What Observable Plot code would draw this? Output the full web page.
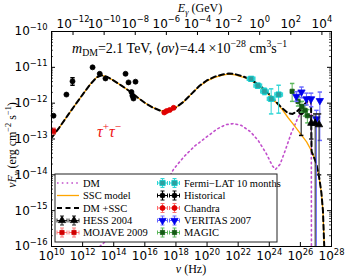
<!DOCTYPE html>
<html><head><meta charset="utf-8">
<script src="https://cdn.jsdelivr.net/npm/d3@7"></script>
<script src="https://cdn.jsdelivr.net/npm/@observablehq/plot@0.6"></script>
<style>body{margin:0;background:#fff}</style>
</head><body><div id="chart"></div>
<script>
// ---------- data (log10 values) ----------
const H_GEV_S = 4.135667e-24; // Planck constant, GeV s (E = h nu)

const sscLogNu = [10.0,10.5,11.0,11.5,12.0,12.5,12.9,13.2,13.6,14.0,14.5,15.0,15.5,16.0,16.5,17.0,17.3,17.7,18.0,18.5,19.0,19.5,20.0,20.5,21.0,21.4,21.8,22.3,22.8,23.3,23.8,24.3,24.8,25.2,25.6,26.0,26.4,26.7,27.0,27.2,27.35,27.45,27.5,27.56];
const sscLogF  = [-12.97,-12.68,-12.37,-12.06,-11.76,-11.47,-11.28,-11.22,-11.27,-11.37,-11.51,-11.66,-11.83,-11.99,-12.12,-12.21,-12.23,-12.19,-12.12,-11.96,-11.74,-11.53,-11.38,-11.28,-11.22,-11.19,-11.21,-11.27,-11.36,-11.50,-11.68,-11.92,-12.16,-12.40,-12.62,-12.85,-13.08,-13.32,-13.65,-14.05,-14.5,-15.0,-15.6,-16.3];

const dmsscLogNu = [10.0,10.5,11.0,11.5,12.0,12.5,12.9,13.2,13.6,14.0,14.5,15.0,15.5,16.0,16.5,17.0,17.3,17.7,18.0,18.5,19.0,19.5,20.0,20.5,21.0,21.4,21.8,22.3,22.8,23.3,23.8,24.3,24.8,25.2,25.5,25.8,26.1,26.4,26.68,26.72,27.0,27.2,27.35,27.45,27.5,27.56];
const dmsscLogF  = [-12.97,-12.68,-12.37,-12.06,-11.76,-11.47,-11.28,-11.22,-11.27,-11.37,-11.51,-11.66,-11.83,-11.99,-12.12,-12.21,-12.23,-12.19,-12.12,-11.96,-11.74,-11.52,-11.36,-11.26,-11.20,-11.17,-11.19,-11.25,-11.34,-11.48,-11.66,-11.90,-12.13,-12.28,-12.30,-12.22,-12.10,-11.97,-11.90,-13.35,-13.65,-14.05,-14.5,-15.0,-15.6,-16.3];

const dmLogNu = [13.1,14.0,15.0,16.0,16.8,17.33,17.84,18.5,19.2,19.8,20.65,21.2,21.7,22.2,22.8,23.3,23.8,24.2,24.4,24.7,25.0,25.4,25.8,26.2,26.5,26.7,26.71];
const dmLogF  = [-16.0,-15.65,-15.25,-14.85,-14.5,-14.25,-13.85,-13.5,-13.2,-13.0,-12.72,-12.6,-12.57,-12.62,-12.8,-13.05,-13.4,-13.75,-13.85,-13.7,-13.35,-12.85,-12.45,-12.12,-11.98,-11.95,-16.5];

// Historical (black circles)
const histLogNu = [10.13,10.96,11.35,12.64,13.10,13.47,14.76,14.95,15.40,15.14,15.20,15.27,26.05];
const histLogF  = [-12.35,-11.76,-11.39,-11.00,-11.18,-11.31,-11.18,-11.42,-11.40,-11.69,-11.79,-11.87,-12.25];
const histYLo   = [null,null,-11.50,null,null,null,null,null,null,null,null,null,-12.90];
const histYHi   = [null,null,-11.29,null,null,null,null,null,null,null,null,null,-12.05];

// MOJAVE 2009 (red squares)
const mojLogNu = [10.13];
const mojLogF  = [-12.78];
const mojYLo   = [-12.86];
const mojYHi   = [-12.70];

// Chandra (red circles)
const chaLogNu = [17.25,17.4,17.6,17.85];
const chaLogF  = [-12.26,-12.22,-12.19,-12.13];

// Fermi-LAT 10 months (cyan squares)
const ferLogNu = [22.83,23.26,23.69,24.12,24.60];
const ferLogF  = [-11.32,-11.51,-11.67,-11.88,-11.76];
const ferYLo   = [-11.38,-11.58,-11.76,-12.30,-12.28];
const ferYHi   = [-11.27,-11.45,-11.58,-11.60,-11.50];
const ferXErr  = [0.24,0.24,0.24,0.24,0.24];

// MAGIC (green)
const magLogNu = [25.47,25.85,26.1,26.3,26.45];
const magLogF  = [-11.67,-11.95,-12.10,-12.20,-12.35];
const magYLo   = [-11.95,-12.08,-12.25,-12.36,-12.55];
const magYHi   = [-11.45,-11.82,-11.95,-12.05,-12.18];

// VERITAS 2007 (blue down triangles)
const verLogNu = [25.74,26.07,26.39,26.69,27.03,27.25];
const verLogF  = [-11.81,-11.69,-11.88,-11.88,-12.44,-11.93];
const verYLo   = [-11.95,-11.85,-12.05,-12.10,-16.5,-13.04];
const verYHi   = [-11.68,-11.55,-11.72,-11.72,-12.20,-11.69];

// HESS 2004 (black up triangles)
const hesLogNu = [26.7,26.95,27.2];
const hesLogF  = [-12.56,-12.56,-12.60];
const hesYLo   = [-13.0,-16.5,-14.0];
const hesYHi   = [-12.35,-12.30,-12.30];

const xTickExp = [10,12,14,16,18,20,22,24,26,28];
const yTickExp = [-16,-15,-14,-13,-12,-11,-10];
const topTickExp = [-12,-10,-8,-6,-4,-2,0,2,4];

// ---------- build ----------
const p10 = v => Math.pow(10, v);
const curve = (lx, ly) => lx.map((v,i)=>({nu:p10(v), f:p10(ly[i])}));
function pts(lx, ly, ylo, yhi, xerr){
  return lx.map((v,i)=>({
    nu:p10(v), f:p10(ly[i]),
    ylo: ylo && ylo[i]!=null ? p10(ylo[i]) : null,
    yhi: yhi && yhi[i]!=null ? p10(yhi[i]) : null,
    xlo: xerr ? p10(v - xerr[i]) : null,
    xhi: xerr ? p10(v + xerr[i]) : null
  }));
}
const capH = {draw(ctx, size){const w=Math.sqrt(size/Math.PI); ctx.moveTo(-w,0); ctx.lineTo(w,0);}};
const capV = {draw(ctx, size){const w=Math.sqrt(size/Math.PI); ctx.moveTo(0,-w); ctx.lineTo(0,w);}};

const styles = {
  fermi:{symbol:"square", r:3, fill:"#2f9e9e", stroke:"#00d0d0", ecolor:"#33d6d6"},
  hist:{symbol:"circle", r:2.5, fill:"#000", stroke:"#000", ecolor:"#000"},
  chandra:{symbol:"circle", r:2.5, fill:"#e00000", stroke:"#e00000", ecolor:"#ff7070"},
  veritas:{symbol:"triangle", r:2.7, fill:"#0000ee", stroke:"#0000ee", ecolor:"#6a6aff", rotate:180},
  magic:{symbol:"square", r:2.4, fill:"#145a14", stroke:"#145a14", ecolor:"#5cb85c"},
  hess:{symbol:"triangle", r:2.7, fill:"#000", stroke:"#000", ecolor:"#222"},
  mojave:{symbol:"square", r:2.4, fill:"#d00000", stroke:"#d00000", ecolor:"#ff7777"}
};

function seriesMarks(data, st){
  const ey = data.filter(d=>d.ylo!=null), ex = data.filter(d=>d.xlo!=null);
  return [
    Plot.link(ex, {x1:"xlo", x2:"xhi", y1:"f", y2:"f", stroke:st.ecolor, strokeWidth:1, clip:true}),
    Plot.link(ey, {x1:"nu", x2:"nu", y1:"ylo", y2:"yhi", stroke:st.ecolor, strokeWidth:1, clip:true}),
    Plot.dot(ey, {x:"nu", y:"ylo", symbol:capH, r:2.2, stroke:st.ecolor, fill:"none", clip:true}),
    Plot.dot(ey, {x:"nu", y:"yhi", symbol:capH, r:2.2, stroke:st.ecolor, fill:"none", clip:true}),
    Plot.dot(ex, {x:"xlo", y:"f", symbol:capV, r:2.2, stroke:st.ecolor, fill:"none"}),
    Plot.dot(ex, {x:"xhi", y:"f", symbol:capV, r:2.2, stroke:st.ecolor, fill:"none"}),
    Plot.dot(data, {x:"nu", y:"f", symbol:st.symbol, r:st.r, fill:st.fill, stroke:st.stroke, strokeWidth:0.8, rotate:st.rotate||0})
  ];
}

const sans = "'DejaVu Sans', Verdana, sans-serif";
const serif = "'Liberation Serif', 'DejaVu Serif', serif";
const mL=51, mR=17, mT=31, mB=34, W=348, HT=280;
const innerW = W-mL-mR, innerH = HT-mT-mB;

const yMinor = [];
for (let e=-16; e<-10; e++) for (let k=2;k<10;k++) yMinor.push(k*p10(e));
const xMajor = xTickExp.map(p10), yMajor = yTickExp.map(p10);
const topNu = topTickExp.map(e => p10(e)/H_GEV_S);

const plot = Plot.plot({
  width:W, height:HT, marginLeft:mL, marginRight:mR, marginTop:mT, marginBottom:mB,
  x:{type:"log", domain:[1e10,1e28]},
  y:{type:"log", domain:[1e-16,1e-10]},
  style:{fontFamily:sans, fontSize:"11px", background:"white", color:"black"},
  marks:[
    Plot.line(curve(dmLogNu, dmLogF), {x:"nu", y:"f", stroke:"#c24fcc", strokeWidth:1.6, strokeDasharray:"1.6,3.2", clip:true}),
    Plot.line(curve(sscLogNu, sscLogF), {x:"nu", y:"f", stroke:"#ffa500", strokeWidth:1.3, clip:true}),
    Plot.line(curve(dmsscLogNu, dmsscLogF), {x:"nu", y:"f", stroke:"#000", strokeWidth:2, strokeDasharray:"5,3.5", clip:true}),
    ...seriesMarks(pts(histLogNu, histLogF, histYLo, histYHi), styles.hist),
    ...seriesMarks(pts(mojLogNu, mojLogF, mojYLo, mojYHi), styles.mojave),
    ...seriesMarks(pts(chaLogNu, chaLogF), styles.chandra),
    ...seriesMarks(pts(ferLogNu, ferLogF, ferYLo, ferYHi, ferXErr), styles.fermi),
    ...seriesMarks(pts(magLogNu, magLogF, magYLo, magYHi), styles.magic),
    ...seriesMarks(pts(verLogNu, verLogF, verYLo, verYHi), styles.veritas),
    ...seriesMarks(pts(hesLogNu, hesLogF, hesYLo, hesYHi), styles.hess),
    Plot.frame({stroke:"#000", strokeWidth:1}),
    Plot.tickX(xMajor, {x:d=>d, insetTop:innerH-4, stroke:"#000"}),
    Plot.tickX(topNu, {x:d=>d, insetBottom:innerH-4, stroke:"#000"}),
    Plot.tickY(yMajor, {y:d=>d, insetRight:innerW-4, stroke:"#000"}),
    Plot.tickY(yMajor, {y:d=>d, insetLeft:innerW-4, stroke:"#000"}),
    Plot.tickY(yMinor, {y:d=>d, insetRight:innerW-2, stroke:"#000", strokeWidth:0.7}),
    Plot.tickY(yMinor, {y:d=>d, insetLeft:innerW-2, stroke:"#000", strokeWidth:0.7}),
    Plot.axisX(xMajor, {anchor:"bottom", tickSize:0, tickPadding:5, label:null, fontSize:12,
      tickFormat:d=>"10^{"+Math.round(Math.log10(d))+"}"}),
    Plot.axisX(topNu, {anchor:"top", tickSize:0, tickPadding:4, label:null, fontSize:12,
      tickFormat:d=>"10^{"+String(Math.round(Math.log10(d*H_GEV_S))).replace("-","−")+"}"}),
    Plot.axisY(yMajor, {anchor:"left", tickSize:0, tickPadding:4, label:null, fontSize:12,
      tickFormat:d=>"10^{"+String(Math.round(Math.log10(d))).replace("-","−")+"}"})
  ]
});
document.getElementById("chart").appendChild(plot);

const NS = "http://www.w3.org/2000/svg";
function rich(textEl, segs, base){
  while (textEl.firstChild) textEl.removeChild(textEl.firstChild);
  let cur = 0;
  segs.forEach(s=>{
    const ts = document.createElementNS(NS,"tspan");
    let target = 0, size = base;
    if (s.sup){ target = -0.42*base; size = base*0.7; }
    if (s.sub){ target = 0.22*base; size = base*0.7; }
    ts.setAttribute("dy", (target-cur).toFixed(2));
    cur = target;
    ts.setAttribute("font-size", size);
    if (s.i) ts.setAttribute("font-style","italic");
    ts.textContent = s.t;
    textEl.appendChild(ts);
  });
}
function parseSimple(str){
  return str.split(/(\^\{[^}]*\})/).filter(Boolean).map(p=> p.startsWith("^{") ? {t:p.slice(2,-1), sup:true} : {t:p});
}
const svg = d3.select(plot);
svg.selectAll("text").each(function(){
  const s = this.textContent;
  if (s.includes("^{")) rich(this, parseSimple(s), 12);
});

function addText(x, y, segs, opt){
  const t = svg.append("text").attr("x",x).attr("y",y)
    .attr("font-family", opt.family||serif).attr("font-size", opt.size)
    .attr("fill", opt.fill||"#000").attr("text-anchor", opt.anchor||"start");
  if (opt.transform) t.attr("transform", opt.transform);
  rich(t.node(), segs, opt.size);
  return t;
}

// annotation
addText(72, 53, [
  {t:"m", i:true},{t:"DM", sub:true},{t:"=2.1 TeV, ⟨"},{t:"σv", i:true},{t:"⟩=4.4 ×10"},{t:"−28", sup:true},
  {t:" cm"},{t:"3", sup:true},{t:"s"},{t:"−1", sup:true}
], {size:14});
addText(97, 137, [{t:"τ", i:true},{t:"+", sup:true},{t:"τ", i:true},{t:"−", sup:true}], {size:16, fill:"#ee1111"});
// axis titles
addText(191, 273, [{t:"ν", i:true},{t:" (Hz)"}], {size:12, anchor:"middle"});
addText(200, 12, [{t:"E", i:true},{t:"γ", sub:true, i:true},{t:" (GeV)"}], {size:12, anchor:"middle"});
addText(0, 0, [{t:"νF", i:true},{t:"ν", sub:true, i:true},{t:" (erg cm"},{t:"−2", sup:true},{t:" s"},{t:"−1", sup:true},{t:")"}],
  {size:12, anchor:"middle", transform:"translate(16,145) rotate(-90)"});

// legend
const lg = svg.append("g").attr("text-anchor","start");
lg.append("rect").attr("x",55).attr("y",174).attr("width",222).attr("height",68)
  .attr("fill","white").attr("stroke","#222").attr("stroke-width",1);
const rowsY = [183,195.5,208,220.5,232.5];
function legendLine(y, color, width, dash){
  lg.append("line").attr("x1",57).attr("x2",79).attr("y1",y).attr("y2",y)
    .attr("stroke",color).attr("stroke-width",width).attr("stroke-dasharray",dash||null);
}
function legendPt(cx, cy, st){
  const e = st.ecolor;
  const L = (x1,y1,x2,y2)=>lg.append("line").attr("x1",x1).attr("y1",y1).attr("x2",x2).attr("y2",y2).attr("stroke",e).attr("stroke-width",1);
  L(cx-5,cy,cx+5,cy); L(cx,cy-4.5,cx,cy+4.5);
  L(cx-2,cy-4.5,cx+2,cy-4.5); L(cx-2,cy+4.5,cx+2,cy+4.5);
  L(cx-5,cy-2,cx-5,cy+2); L(cx+5,cy-2,cx+5,cy+2);
  const types = {circle:d3.symbolCircle, square:d3.symbolSquare, triangle:d3.symbolTriangle};
  lg.append("path").attr("d", d3.symbol(types[st.symbol], Math.PI*st.r*st.r)())
    .attr("transform",`translate(${cx},${cy}) rotate(${st.rotate||0})`)
    .attr("fill",st.fill).attr("stroke",st.stroke).attr("stroke-width",0.8);
}
function legendLabel(x, y, s){
  lg.append("text").attr("x",x).attr("y",y+3.5).attr("text-anchor","start")
    .attr("font-family",serif).attr("font-size",10.5).attr("fill","#000").text(s);
}
legendLine(rowsY[0], "#c24fcc", 1.6, "1.6,3.2"); legendLabel(83, rowsY[0], "DM");
legendLine(rowsY[1], "#ffa500", 1.3); legendLabel(83, rowsY[1], "SSC model");
legendLine(rowsY[2], "#000", 2, "5,3.5"); legendLabel(83, rowsY[2], "DM +SSC");
legendPt(62, rowsY[3], styles.hess); legendPt(74, rowsY[3], styles.hess); legendLabel(83, rowsY[3], "HESS 2004");
legendPt(62, rowsY[4], styles.mojave); legendPt(74, rowsY[4], styles.mojave); legendLabel(83, rowsY[4], "MOJAVE 2009");
const col2 = [["Fermi−LAT 10 months", styles.fermi],["Historical", styles.hist],["Chandra", styles.chandra],["VERITAS 2007", styles.veritas],["MAGIC", styles.magic]];
col2.forEach(([s, st], i)=>{ legendPt(162.5, rowsY[i], st); legendPt(174.5, rowsY[i], st); legendLabel(184, rowsY[i], s); });
</script>
</body></html>
